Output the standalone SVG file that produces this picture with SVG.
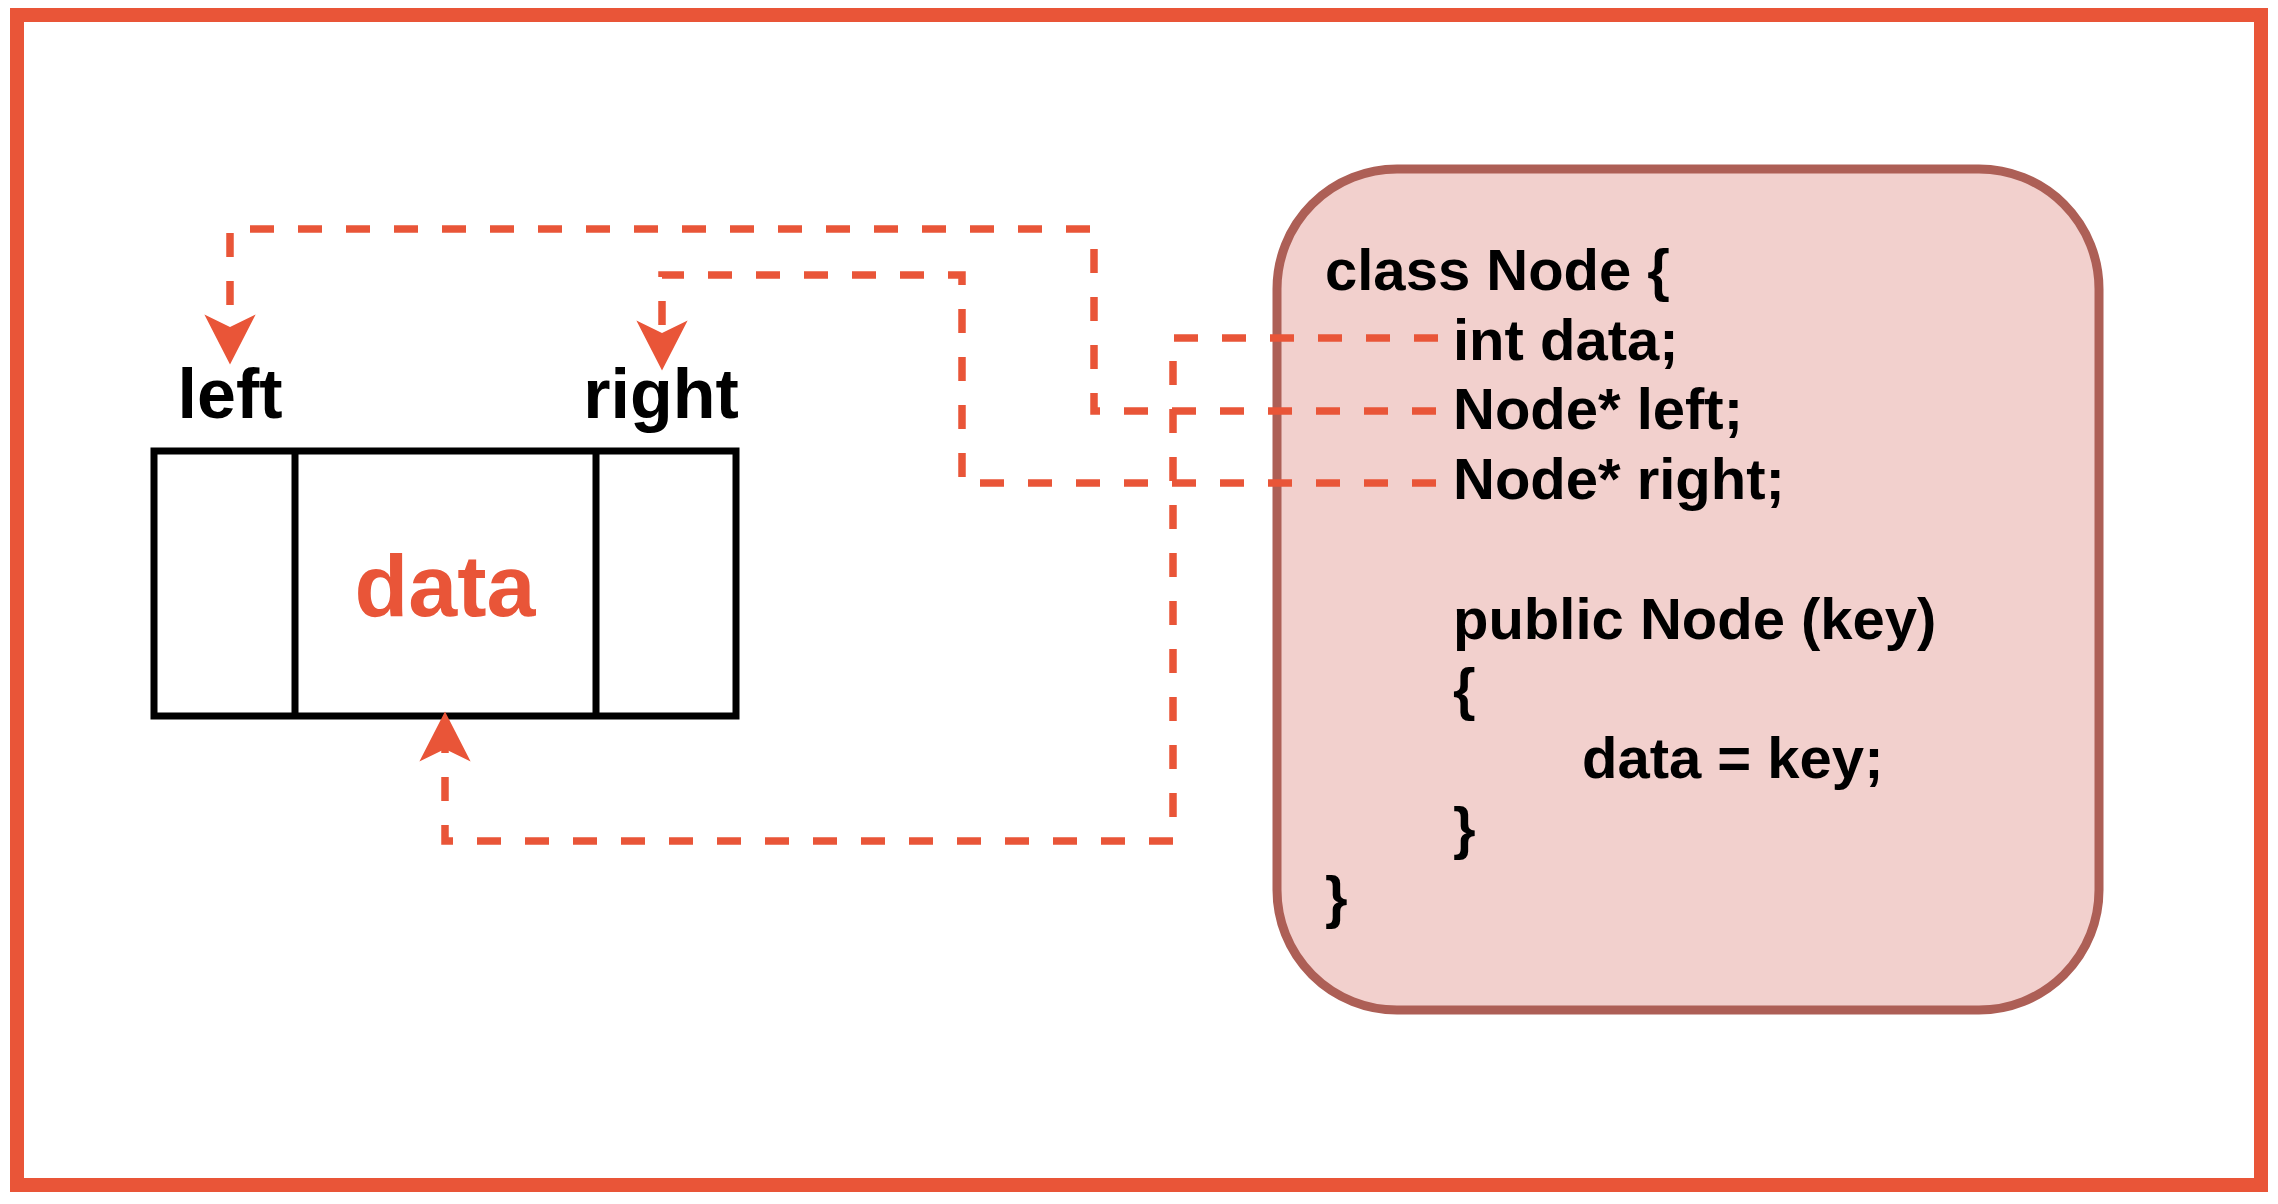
<svg xmlns="http://www.w3.org/2000/svg" width="2278" height="1204" viewBox="0 0 2278 1204">
  <style>
    .lbl { font-family: "Liberation Sans", Arial, sans-serif; font-weight: bold; fill: #000; }
    .code { font-family: "Liberation Sans", Arial, sans-serif; font-weight: bold; font-size: 58px; fill: #000; }
    .conn { fill: none; stroke: #E95538; stroke-width: 7.5; stroke-dasharray: 24 24; stroke-linejoin: miter; }
    .cell { fill: #FFFFFF; stroke: #000; stroke-width: 7; }
  </style>
  <defs>
    <marker id="arr" markerUnits="userSpaceOnUse" markerWidth="60" markerHeight="60" viewBox="-12 -24 46 48" refX="0" refY="0" orient="auto">
      <path d="M 30 0 L -10 -20.5 L 0 0 L -10 20.5 Z" fill="#E95538"/>
    </marker>
  </defs>
  <rect x="0" y="0" width="2278" height="1204" fill="#FFFFFF"/>
  <g id="frame">
    <rect x="17" y="15" width="2244" height="1170" fill="none" stroke="#E95538" stroke-width="14"/>
  </g>
  <g id="node-struct">
    <rect class="cell" x="154" y="451" width="582" height="265"/>
    <line x1="295" y1="451" x2="295" y2="716" stroke="#000" stroke-width="7"/>
    <line x1="596" y1="451" x2="596" y2="716" stroke="#000" stroke-width="7"/>
    <text x="445" y="616" text-anchor="middle" class="lbl" font-size="88" style="fill:#E95538">data</text>
  </g>
  <g id="label-left">
    <text x="230" y="418" text-anchor="middle" class="lbl" font-size="70">left</text>
  </g>
  <g id="label-right">
    <text x="661" y="418" text-anchor="middle" class="lbl" font-size="70">right</text>
  </g>
  <g id="class-box">
    <rect x="1277" y="169" width="822" height="841" rx="120" ry="120" fill="#F2D0CD" stroke="#AD5F56" stroke-width="9"/>
    <text class="code" x="1325" y="290">class Node {</text>
    <text class="code" x="1453" y="360">int data;</text>
    <text class="code" x="1453" y="429">Node* left;</text>
    <text class="code" x="1453" y="499">Node* right;</text>
    <text class="code" x="1453" y="639">public Node (key)</text>
    <text class="code" x="1453" y="709">{</text>
    <text class="code" x="1582" y="778">data = key;</text>
    <text class="code" x="1453" y="848">}</text>
    <text class="code" x="1325" y="917">}</text>
  </g>
  <g id="connectors">
    <path class="conn" d="M 1438 338 H 1173 V 841 H 445 V 749" marker-end="url(#arr)"/>
    <path class="conn" d="M 1436 411 H 1094 V 229 H 230 V 327" marker-end="url(#arr)"/>
    <path class="conn" d="M 1436 483 H 962 V 275 H 662 V 333" marker-end="url(#arr)"/>
  </g>
</svg>
